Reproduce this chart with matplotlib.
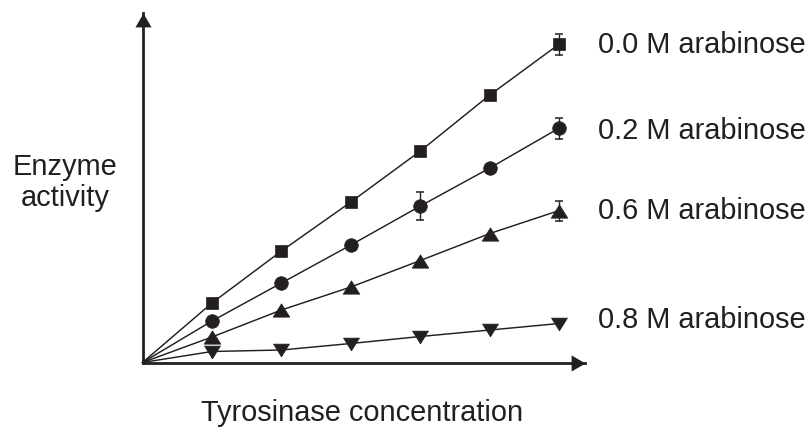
import matplotlib
matplotlib.use('Agg')
import matplotlib.pyplot as plt
import numpy as np

# ---- data (arbitrary units) ----
concentration = [0, 1, 2, 3, 4, 5, 6]
series_labels = ['0.0 M arabinose', '0.2 M arabinose', '0.6 M arabinose', '0.8 M arabinose']
act_00 = [0, 5.95, 11.15, 16.05, 21.15, 26.75, 31.85]
act_02 = [0, 4.15, 7.95, 11.75, 15.65, 19.45, 23.45]
act_06 = [0, 2.55, 5.25, 7.55, 10.2, 12.9, 15.2]
act_08 = [0, 1.1, 1.25, 1.9, 2.6, 3.25, 3.9]
err_00 = [0, 0, 0, 0, 0, 0, 1.05]
err_02 = [0, 0, 0, 0, 1.4, 0, 1.05]
err_06 = [0, 0, 0, 0, 0, 0, 1.0]
err_08 = [0, 0, 0, 0, 0, 0, 0]
x_label = 'Tyrosinase concentration'
y_label_lines = ['Enzyme', 'activity']

INK = '#231f20'
FS = 20.9
plt.rcParams['font.family'] = ['Liberation Sans', 'DejaVu Sans']

fig = plt.figure(figsize=(8.08, 4.29), dpi=100)
ax = fig.add_axes([142.5 / 808, (429 - 362.5) / 429, (585 - 142.5) / 808, (362.5 - 13) / 429])
ax.set_xlim(0, 6.37)
ax.set_ylim(0, 34.95)
ax.set_xticks([])
ax.set_yticks([])
for s in ['top', 'right']:
    ax.spines[s].set_visible(False)
for s in ['left', 'bottom']:
    ax.spines[s].set_linewidth(2.0)
    ax.spines[s].set_color(INK)
ax.patch.set_visible(False)

# arrow heads at the ends of the axes
up_head = [(0, 0), (-0.58, -1), (0.58, -1), (0, 0)]
right_head = [(0, 0), (-1, 0.58), (-1, -0.58), (0, 0)]
ax.plot([0], [1], marker=up_head, ms=20, color=INK, mew=0, transform=ax.transAxes, clip_on=False)
ax.plot([1], [0], marker=right_head, ms=20, color=INK, mew=0, transform=ax.transAxes, clip_on=False)

tri_up = [(0, 0.8), (-1, -0.8), (1, -0.8), (0, 0.8)]
tri_down = [(0, -0.8), (-1, 0.8), (1, 0.8), (0, -0.8)]
series = [
    (act_00, err_00, 's', 9.1),
    (act_02, err_02, 'o', 9.8),
    (act_06, err_06, tri_up, 12),
    (act_08, err_08, tri_down, 11.5),
]
label_offsets = [(28, -6.7), (28, -8.1), (28, -6.3), (28, -3.6)]

x = np.array(concentration)
for (y, e, m, ms), lab, off in zip(series, series_labels, label_offsets):
    y = np.array(y)
    e = np.array(e)
    ax.plot(x, y, color=INK, lw=1.05, clip_on=False, zorder=2)
    sel = e > 0
    if sel.any():
        ax.errorbar(x[sel], y[sel], yerr=e[sel], fmt='none', ecolor=INK,
                    elinewidth=1.0, capsize=3, capthick=1.1, clip_on=False, zorder=2)
    ax.plot(x[1:], y[1:], linestyle='none', marker=m, ms=ms, color=INK,
            mec=INK, mew=0.5, clip_on=False, zorder=3)
    ax.annotate(lab, xy=(x[-1], y[-1]), xytext=off, textcoords='offset points',
                ha='left', va='baseline', fontsize=FS, color=INK, annotation_clip=False)

fig.text(362.5 / 808, 1 - 420.7 / 429, x_label, ha='center', va='baseline', fontsize=FS, color=INK)
fig.text(65 / 808, 1 - 175 / 429, y_label_lines[0], ha='center', va='baseline', fontsize=FS, color=INK)
fig.text(65 / 808, 1 - 206.5 / 429, y_label_lines[1], ha='center', va='baseline', fontsize=FS, color=INK)

fig.savefig('out.png', dpi=100)
